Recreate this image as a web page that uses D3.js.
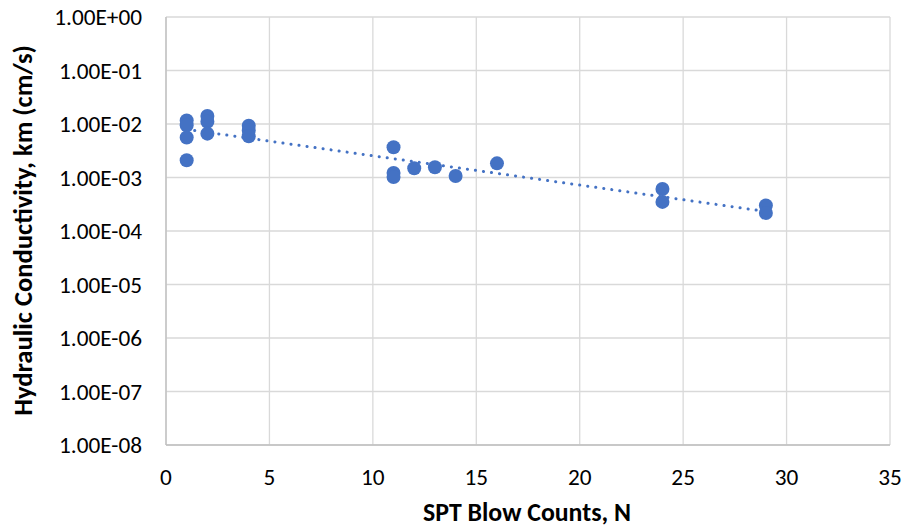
<!DOCTYPE html>
<html><head><meta charset="utf-8">
<script src="https://cdn.jsdelivr.net/npm/d3@7"></script>
<style>body{margin:0;background:#fff}svg{display:block}</style>
</head><body>
<script>
const blowCounts = [1,1,1,1, 2,2,2, 4,4,4, 11,11,11, 12, 13, 14, 16, 24,24, 29,29];
const conductivity = [1.16e-2,9.5e-3,5.6e-3,2.1e-3, 1.41e-2,1.1e-2,6.6e-3, 9.3e-3,7.6e-3,5.9e-3, 3.67e-3,1.21e-3,1.02e-3, 1.49e-3, 1.55e-3, 1.07e-3, 1.84e-3, 6.1e-4,3.5e-4, 3.0e-4,2.17e-4];
const xTicks = [0,5,10,15,20,25,30,35];
const yTicks = [1,1e-1,1e-2,1e-3,1e-4,1e-5,1e-6,1e-7,1e-8];
const yTickLabels = ["1.00E+00","1.00E-01","1.00E-02","1.00E-03","1.00E-04","1.00E-05","1.00E-06","1.00E-07","1.00E-08"];

const W=904,H=529, L=166, R=890, T=17, B=445;
const svg=d3.select("body").append("svg").attr("width",W).attr("height",H);
const x=d3.scaleLinear().domain([0,35]).range([L,R]);
const y=d3.scaleLog().domain([1e-8,1]).range([B,T]);
const font="Carlito, Calibri, Lato, 'Open Sans', sans-serif";

function fitSize(txt, weight, target){
  const t=svg.append("text").attr("font-family",font).attr("font-size",100).attr("font-weight",weight).text(txt);
  const w=t.node().getComputedTextLength(); t.remove();
  return 100*target/w;
}
const tickSize=fitSize("1.00E-08","normal",83);
const xTitleSize=fitSize("SPT Blow Counts, N","bold",208);
const yTitleSize=fitSize("Hydraulic Conductivity, km (cm/s)","bold",371);

// gridlines
svg.append("g").selectAll("line").data(yTicks).join("line")
  .attr("x1",L).attr("x2",R).attr("y1",d=>y(d)).attr("y2",d=>y(d))
  .attr("stroke","#d9d9d9").attr("stroke-width",1.3);
svg.append("g").selectAll("line").data(xTicks).join("line")
  .attr("y1",T).attr("y2",B).attr("x1",d=>x(d)).attr("x2",d=>x(d))
  .attr("stroke","#d9d9d9").attr("stroke-width",1.3);
// axis lines
svg.append("line").attr("x1",L).attr("x2",L).attr("y1",T).attr("y2",B).attr("stroke","#bfbfbf").attr("stroke-width",1.3);
svg.append("line").attr("x1",L).attr("x2",R).attr("y1",B).attr("y2",B).attr("stroke","#bfbfbf").attr("stroke-width",1.3);

// tick labels
svg.append("g").selectAll("text").data(yTicks).join("text")
  .attr("x",142).attr("y",d=>y(d)).attr("dy","0.36em").attr("text-anchor","end")
  .attr("font-family",font).attr("font-size",tickSize).attr("fill","#000")
  .text((d,i)=>yTickLabels[i]);
svg.append("g").selectAll("text").data(xTicks).join("text")
  .attr("x",d=>x(d)).attr("y",477).attr("dy","0.36em").attr("text-anchor","middle")
  .attr("font-family",font).attr("font-size",tickSize).attr("fill","#000")
  .text(d=>d);

// trendline (exponential fit)
const lx=blowCounts, ly=conductivity.map(Math.log);
const mx=d3.mean(lx), my=d3.mean(ly);
const slope=d3.sum(lx.map((v,i)=>(v-mx)*(ly[i]-my)))/d3.sum(lx.map(v=>(v-mx)*(v-mx)));
const icpt=my-slope*mx;
const x0=d3.min(blowCounts), x1=d3.max(blowCounts);
const trend=d3.range(0,101).map(i=>{const xv=x0+(x1-x0)*i/100;return [xv,Math.exp(icpt+slope*xv)];});
svg.append("path").datum(trend)
  .attr("d",d3.line().x(d=>x(d[0])).y(d=>y(d[1])))
  .attr("fill","none").attr("stroke","#4472c4").attr("stroke-width",3)
  .attr("stroke-dasharray","0.1 8").attr("stroke-linecap","round");

// points
svg.append("g").selectAll("circle").data(blowCounts).join("circle")
  .attr("cx",d=>x(d)).attr("cy",(d,i)=>y(conductivity[i])).attr("r",7)
  .attr("fill","#4472c4");

// axis titles
svg.append("text").attr("x",527).attr("y",521).attr("text-anchor","middle")
  .attr("font-family",font).attr("font-size",xTitleSize).attr("font-weight","bold").text("SPT Blow Counts, N");
svg.append("text").attr("transform",`translate(32,230.5) rotate(-90)`).attr("text-anchor","middle")
  .attr("font-family",font).attr("font-size",yTitleSize).attr("font-weight","bold").text("Hydraulic Conductivity, km (cm/s)");
</script>
</body></html>
